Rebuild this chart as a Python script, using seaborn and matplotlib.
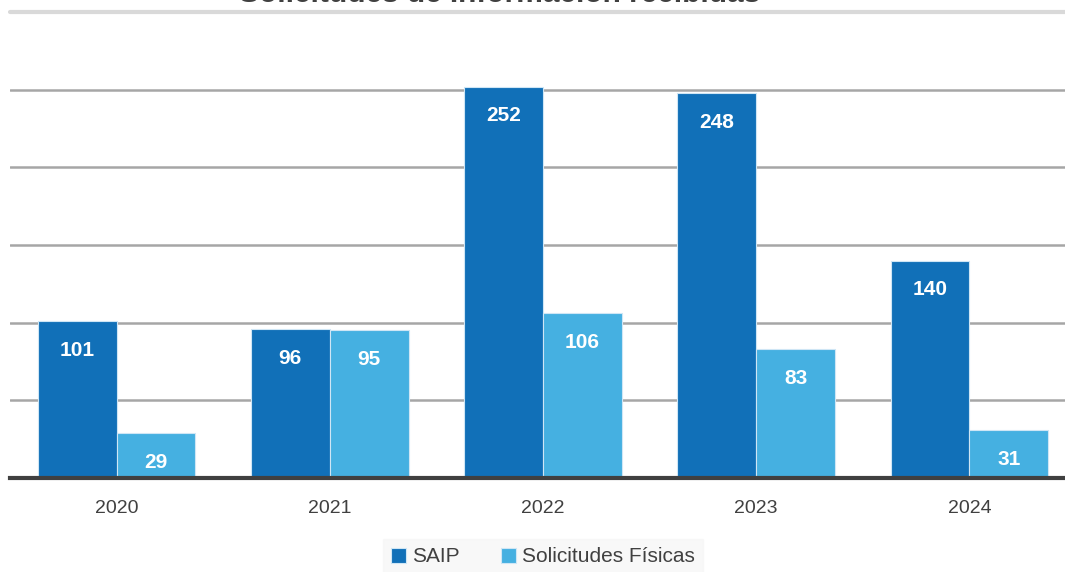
import matplotlib
matplotlib.use('Agg')
import matplotlib.pyplot as plt
import seaborn as sns
import pandas as pd

years = ['2020', '2021', '2022', '2023', '2024']
saip = [101, 96, 252, 248, 140]
fisicas = [29, 95, 106, 83, 31]
series_names = ['SAIP', 'Solicitudes Físicas']
colors = ['#1170b8', '#45b0e1']

df = pd.DataFrame({
    'year': years * 2,
    'value': saip + fisicas,
    'serie': [series_names[0]] * 5 + [series_names[1]] * 5,
})

sns.set_style('white')
plt.rcParams['font.family'] = ['Liberation Sans', 'DejaVu Sans']

fig = plt.figure(figsize=(10.65, 5.72), dpi=100)
ax = fig.add_axes([10 / 1065, 1 - 478 / 572, 1066 / 1065, 466 / 572])

sns.barplot(data=df, x='year', y='value', hue='serie', palette=colors,
            saturation=1, width=0.74, gap=0, edgecolor='#cfe6f5',
            linewidth=0.8, ax=ax, zorder=3)

ax.set_ylim(0, 300)
ax.set_yticks([50, 100, 150, 200, 250])
ax.yaxis.grid(True, color='#a6a6a6', linewidth=1.8, zorder=0)
ax.axhline(300, color='#d9d9d9', linewidth=3, zorder=1, clip_on=False)
ax.set_yticklabels([])
ax.tick_params(axis='y', length=0)
ax.tick_params(axis='x', length=0, labelsize=14, colors='#404040', pad=16)
ax.set_xlabel('')
ax.set_ylabel('')
for s in ['top', 'right', 'left']:
    ax.spines[s].set_visible(False)
ax.spines['bottom'].set_color('#404040')
ax.spines['bottom'].set_linewidth(3)
ax.spines['bottom'].set_zorder(4)

for cont in ax.containers:
    labels = [f'{int(b.get_height())}' for b in cont]
    ax.bar_label(cont, labels=labels, label_type='edge', padding=-28,
                 color='white', fontsize=15, fontweight='bold')

handles, labs = ax.get_legend_handles_labels()
ax.get_legend().remove()
leg = fig.legend(handles, labs, loc='center', bbox_to_anchor=(543 / 1065, 1 - 557 / 572),
                 ncol=2, frameon=True, fontsize=15, handlelength=0.7, handleheight=0.7,
                 handletextpad=0.3, columnspacing=2.0, borderpad=0.4)
leg.get_frame().set_facecolor('#f7f7f7')
leg.get_frame().set_edgecolor('#f7f7f7')
leg.get_frame().set_boxstyle('square', pad=0)
for t in leg.get_texts():
    t.set_color('#404040')

fig.text(500 / 1065, 1 - 2 / 572, 'Solicitudes de Información recibidas', ha='center',
         va='baseline', fontsize=21.5, fontweight='bold', color='#404040')

fig.savefig('out.png', dpi=100)
